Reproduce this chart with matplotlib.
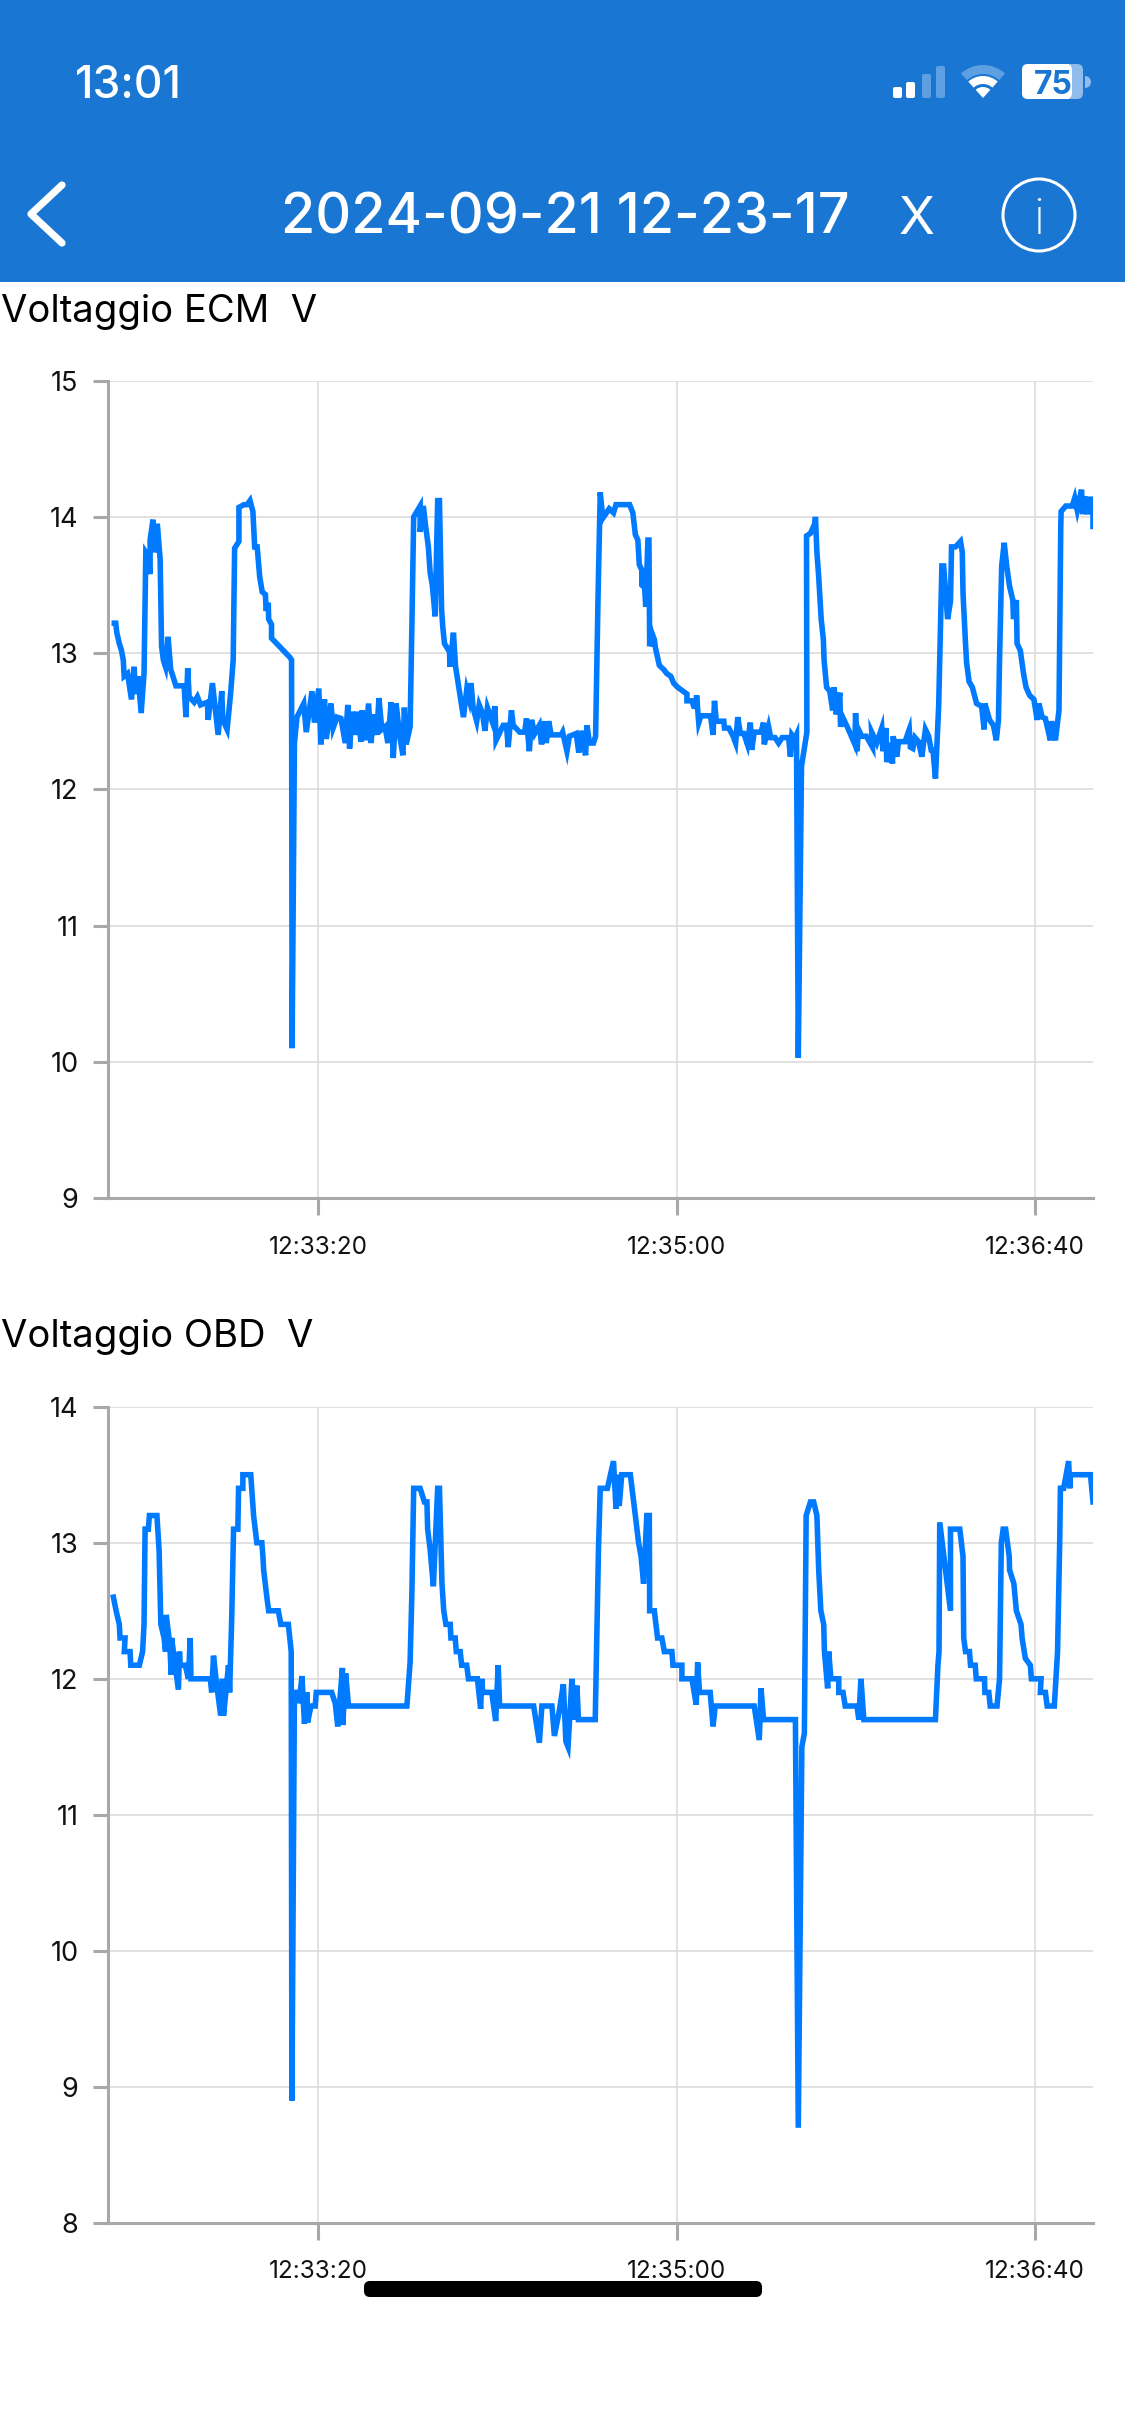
import matplotlib
matplotlib.use("Agg")
import matplotlib.pyplot as plt
import matplotlib.patches as patches

plt.rcParams['font.family'] = ['Inter', 'DejaVu Sans']

W, H = 1125, 2436
HEADER_BLUE = '#1976D2'
LINE_BLUE = '#007AFF'
AXIS_GREY = '#A8A8A8'
GRID_GREY = '#D8D8D8'

# seconds after 12:32:20
tick_secs = [60, 160, 260]
tick_labels = ['12:33:20', '12:35:00', '12:36:40']
xlim_secs = (1.1, 276.3)

ecm_t = [3.0, 3.4, 3.7, 4.4, 5.0, 5.5, 5.75, 6.7, 7.8, 8.5, 9.0, 9.65, 10.5, 11.3, 11.8, 12.3,
         13.0, 13.0, 13.8, 14.3, 15.0, 15.8, 16.2, 16.7, 17.3, 18.0, 18.75, 19.5, 20.2, 22.5, 23.0,
         23.5, 23.9, 25.3, 26.2, 27.1, 29.0, 29.2, 30.4, 32.0, 33.0, 33.3, 34.5, 35.5, 36.2, 36.6,
         37.8, 37.8, 39.2, 40.1, 40.9, 41.7, 42.2, 42.9, 43.6, 44.3, 45.2, 45.4, 46.0, 46.1, 46.9,
         46.9, 52.0, 52.5, 52.65, 53.3, 54.0, 55.9, 56.6, 58.2, 58.9, 60.1, 60.7, 61.7, 62.2, 63.5,
         64.1, 65.2, 66.3, 67.5, 68.2, 68.7, 69.4, 70.1, 70.8, 71.9, 72.2, 73.1, 74.0, 74.7, 75.4,
         76.3, 76.9, 77.7, 78.6, 79.4, 80.3, 80.9, 81.7, 82.7, 83.6, 84.0, 84.5, 85.6, 86.1, 86.6,
         88.4, 88.4, 89.3, 89.8, 90.7, 91.2, 91.8, 92.6, 93.3, 93.8, 94.4, 94.7, 95.2, 96.6, 96.75,
         97.7, 98.3, 100.5, 101.4, 102.1, 102.6, 103.2, 104.2, 104.9, 105.8, 106.5, 107.2, 108.5,
         109.3, 109.6, 111.6, 112.5, 113.0, 113.9, 114.4, 116.2, 117.6, 118.1, 118.9, 119.5, 120.4,
         121.7, 122.3, 123.2, 123.6, 124.3, 125.0, 127.8, 128.2, 129.4, 130.1, 132.0, 132.7, 133.6,
         134.6, 135.0, 135.7, 136.8, 137.4, 138.1, 138.7, 139.4,
         141.2, 142.4, 143.1, 146.9, 147.8, 148.5, 149.2, 149.6, 150.3, 150.3, 151.1, 151.4, 152.0,
         152.3, 152.5, 153.1, 153.8, 154.1, 155.2, 156.4, 157.3, 158.4, 159.2, 160.3, 162.9, 162.9,
         164.3, 164.8, 165.5, 165.6, 166.2, 166.8, 169.5, 170.2, 170.6, 171.1, 173.2, 173.4, 174.6,
         175.8, 176.5, 177.1, 177.8, 178.8, 179.8, 180.6, 181.0, 181.7, 183.6, 184.3, 184.5, 185.7,
         186.3, 187.5, 188.5, 189.5, 191.3, 191.8, 192.2, 193.0, 193.5, 194.0, 194.9, 196.4,
         196.3, 197.4, 198.6, 198.8, 199.2, 199.7, 200.4, 201.0, 201.2, 201.9, 202.8, 203.6, 204.0,
         204.6, 205.6, 205.8, 206.4, 208.0, 209.8, 210.0, 210.4, 210.8, 211.7, 213.0, 214.7, 214.5,
         215.9, 217.3, 217.6, 218.5, 218.7, 219.8, 220.3, 220.5, 221.5, 222.0, 223.8, 225.0, 225.3,
         226.0, 226.6, 227.6, 228.5, 229.5, 230.4, 231.1, 231.6, 232.3, 233.2, 233.7, 234.1, 234.6,
         235.7, 236.5, 236.8, 237.9, 239.3, 239.8, 240.0, 240.7, 241.0, 241.7, 242.6, 243.3, 243.8,
         245.2, 245.9, 246.1, 247.4, 248.5, 249.3, 249.9, 250.2, 250.8, 251.5, 252.2, 253.0, 253.9,
         254.1, 254.9, 255.1, 256.0, 256.9, 257.6, 258.6, 259.8, 260.7, 261.2, 262.1, 263.0, 264.4,
         264.7, 265.8, 266.8, 267.3, 267.4, 268.7, 270.5, 271.2, 271.9, 273.1, 273.4, 274.0, 274.8,
         275.5, 276.3, 276.3]
ecm_v = [13.22, 13.22, 13.15, 13.07, 13.02, 12.95, 12.83, 12.85, 12.66, 12.90, 12.70, 12.83, 12.56, 12.85, 13.74, 13.72,
         13.58, 13.83, 13.98, 13.74, 13.95, 13.69, 13.05, 12.95, 12.90, 13.12, 12.88, 12.82, 12.76, 12.76, 12.53,
         12.89, 12.68, 12.64, 12.68, 12.62, 12.64, 12.51, 12.78, 12.40, 12.72, 12.51, 12.44, 12.71, 12.95, 13.77,
         13.82, 14.07, 14.09, 14.09, 14.12, 14.04, 13.78, 13.78, 13.56, 13.45, 13.43, 13.31, 13.37, 13.25, 13.21,
         13.11, 12.97, 12.95, 10.10, 12.34, 12.53, 12.63, 12.42, 12.72, 12.49, 12.74, 12.33, 12.66, 12.37, 12.63,
         12.45, 12.53, 12.52, 12.34, 12.62, 12.30, 12.57, 12.40, 12.57, 12.35, 12.58, 12.36, 12.63, 12.34, 12.55,
         12.40, 12.67, 12.44, 12.46, 12.34, 12.64, 12.23, 12.63, 12.39, 12.25, 12.60, 12.33, 12.46, 13.20, 14.00,
         14.08, 13.89, 14.08, 13.96, 13.78, 13.59, 13.50, 13.27, 14.12, 14.12, 13.32, 13.20, 13.07, 13.01, 12.90,
         13.15, 12.90, 12.53, 12.73, 12.66, 12.78, 12.60, 12.50, 12.62, 12.56, 12.43, 12.60, 12.50,
         12.61, 12.36, 12.47, 12.47, 12.31, 12.58, 12.47, 12.42, 12.42, 12.52, 12.28, 12.51, 12.41,
         12.47, 12.33, 12.50, 12.34, 12.50, 12.40, 12.40, 12.42, 12.28, 12.39, 12.41, 12.27, 12.43,
         12.25, 12.47, 12.34, 12.34, 12.39, 13.44, 14.18, 13.99,
         14.06, 14.03, 14.09, 14.09, 14.03, 13.87, 13.83, 13.65, 13.61, 13.50, 13.48, 13.34, 13.83,
         13.83, 13.05, 13.15, 13.10, 13.04, 12.91, 12.88, 12.85, 12.83, 12.78, 12.75, 12.70, 12.65,
         12.65, 12.61, 12.61, 12.69, 12.49, 12.54, 12.54, 12.40, 12.65, 12.50, 12.50, 12.45, 12.45,
         12.39, 12.34, 12.53, 12.41, 12.41, 12.33, 12.49, 12.29, 12.42, 12.42, 12.49, 12.33, 12.46,
         12.38, 12.38, 12.34, 12.38, 12.38, 12.24, 12.40, 12.37, 12.40, 10.03, 12.17, 12.42,
         13.86, 13.88, 13.95, 14.00, 13.74, 13.56, 13.25, 13.10, 12.95, 12.75, 12.72, 12.58, 12.75,
         12.55, 12.71, 12.46, 12.53, 12.44, 12.33, 12.56, 12.28, 12.44, 12.39, 12.39, 12.31, 12.42,
         12.34, 12.45, 12.28, 12.45, 12.20, 12.34, 12.19, 12.39, 12.24, 12.35, 12.35, 12.44, 12.31,
         12.30, 12.38, 12.35, 12.24, 12.44, 12.39, 12.29, 12.29, 12.08, 12.61, 13.20, 13.64, 13.64,
         13.25, 13.38, 13.78, 13.78, 13.82, 13.74, 13.44, 13.07, 12.93, 12.79, 12.75, 12.68, 12.63,
         12.61, 12.44, 12.63, 12.51, 12.47, 12.36, 12.51, 12.95, 13.64, 13.81, 13.64, 13.49, 13.39,
         13.25, 13.39, 13.07, 13.02, 12.85, 12.75, 12.69, 12.66, 12.51, 12.63, 12.53, 12.52, 12.36,
         12.50, 12.36, 12.58, 13.93, 14.04, 14.08, 14.08, 14.14, 14.05, 14.20, 14.02, 14.15, 14.02,
         14.13, 14.13, 13.93]

obd_t = [2.75, 3.5, 4.4, 4.6, 6.0, 5.8, 7.4, 7.6, 10.0, 10.9, 11.3, 11.6, 12.5, 12.8, 14.9, 15.5,
         16.0, 16.9, 17.3, 17.5, 18.5, 18.9, 19.0, 19.5, 20.9, 21.2, 21.4, 22.8, 23.7, 24.2, 24.4, 29.8,
         30.2, 30.7, 31.4, 32.7, 33.2, 33.5, 34.9, 35.2, 35.8, 36.3, 37.5, 37.7, 38.9, 38.9, 41.1, 41.9,
         42.8, 44.2, 44.5, 44.7, 45.6, 46.1, 48.8, 49.5, 51.6, 52.4, 52.6, 53.3, 54.4, 54.6, 55.4,
         56.1, 56.8, 57.0, 57.9, 59.1, 59.4, 63.7, 64.7, 65.4, 66.7, 66.8, 67.6, 68.4, 68.4, 84.7,
         85.6, 86.1, 86.6, 88.4, 89.6, 90.3, 90.5, 91.2, 92.1, 93.3, 93.8, 94.5, 95.0, 95.6, 96.8,
         97.0, 98.2, 98.5, 99.6, 100.0, 101.4, 101.9, 104.4, 105.3, 105.6, 105.9, 108.4, 109.5,
         110.2, 110.6, 120.1, 121.7, 122.4, 125.2, 125.9, 127.3, 128.4, 129.1, 129.7, 130.8, 131.4,
         132.2, 132.6, 137.3, 138.2, 138.7, 140.7, 142.4, 143.1, 143.5, 144.0, 144.7, 147.1, 148.5,
         149.4, 150.1, 150.8, 151.7, 152.4, 152.5, 153.8, 154.7, 155.9, 156.6, 158.7, 159.0, 161.5,
         161.5, 164.3, 165.5, 165.9, 166.4, 169.4, 170.2, 170.8, 181.7, 183.1, 183.6, 184.3, 193.2,
         194.0, 195.0, 195.7, 196.2, 197.4, 198.3, 199.2, 199.7, 200.3, 201.1, 201.3, 202.2, 202.5,
         203.1, 205.3, 205.3, 206.5, 207.1, 210.4, 210.9, 211.5, 212.3, 232.3, 233.0, 233.3, 233.5,
         236.5, 236.5, 239.1, 240.0, 240.2, 240.7, 241.8, 242.1, 243.4, 243.7, 246.0, 246.1, 247.2,
         247.6, 249.5, 250.2, 250.7, 251.2, 251.9, 252.9, 253.0, 254.2, 254.9, 256.2, 256.5, 257.4,
         258.8, 259.1, 261.8, 261.6, 263.0, 263.5, 265.5, 266.4, 267.0, 267.2, 268.1, 269.5, 269.8,
         270.0, 275.6, 276.3]
obd_v = [12.6, 12.5, 12.4, 12.3, 12.3, 12.2, 12.2, 12.1, 12.1, 12.2, 12.4, 13.1, 13.1, 13.2, 13.2, 12.95,
         12.4, 12.3, 12.2, 12.47, 12.25, 12.03, 12.3, 12.2, 11.92, 12.2, 12.1, 12.1, 12.0, 12.3, 12.0, 12.0,
         11.9, 12.17, 12.0, 11.73, 12.0, 11.73, 12.1, 11.9, 12.46, 13.1, 13.1, 13.4, 13.4, 13.5, 13.5, 13.2,
         13.0, 13.0, 12.9, 12.8, 12.6, 12.5, 12.5, 12.4, 12.4, 12.2, 8.9, 11.9, 11.9, 11.82, 12.02,
         11.67, 11.9, 11.68, 11.8, 11.8, 11.9, 11.9, 11.82, 11.65, 12.08, 11.66, 12.04, 11.8, 11.8, 11.8,
         12.12, 12.63, 13.4, 13.4, 13.3, 13.3, 13.1, 12.95, 12.68, 13.4, 13.4, 12.7, 12.5, 12.4, 12.4,
         12.3, 12.3, 12.2, 12.2, 12.1, 12.1, 12.0, 12.0, 11.78, 12.0, 11.9, 11.9, 11.69,
         12.1, 11.8, 11.8, 11.53, 11.8, 11.8, 11.58, 11.77, 11.96, 11.54, 11.5, 12.0, 11.7,
         11.95, 11.7, 11.7, 12.95, 13.4, 13.4, 13.6, 13.25, 13.5, 13.27, 13.5, 13.5, 13.2,
         13.0, 12.9, 12.7, 13.2, 13.2, 12.5, 12.5, 12.3, 12.3, 12.2, 12.2, 12.1, 12.1,
         12.0, 12.0, 11.81, 12.12, 11.9, 11.9, 11.65, 11.8, 11.8, 11.55, 11.93, 11.7, 11.7,
         8.7, 11.5, 11.6, 13.2, 13.3, 13.3, 13.2, 12.8, 12.5, 12.4, 12.2, 11.93, 12.2,
         12.0, 12.0, 11.9, 11.9, 11.8, 11.8, 11.7, 12.0, 11.7, 11.7, 12.1, 12.2, 13.15,
         12.5, 13.1, 13.1, 12.9, 12.3, 12.2, 12.2, 12.1, 12.1, 12.0, 12.0, 11.9, 11.9,
         11.8, 11.8, 12.0, 13.0, 13.1, 13.1, 12.9, 12.8, 12.7, 12.5, 12.4, 12.3, 12.15,
         12.1, 12.0, 12.0, 11.9, 11.9, 11.8, 11.8, 12.2, 13.0, 13.4, 13.4, 13.6, 13.4,
         13.5, 13.5, 13.3]


def add_chart(fig, top, bottom, t, v, ylim, title, title_base):
    left, right = 107.5, 1093
    ax = fig.add_axes([left / W, 1 - bottom / H, (right - left) / W, (bottom - top) / H])
    ax.plot(t, v, color=LINE_BLUE, lw=4.0, solid_joinstyle='miter', zorder=3)
    ax.set_xlim(*xlim_secs)
    ax.set_ylim(*ylim)
    ax.set_yticks(range(ylim[0], ylim[1] + 1))
    ax.set_xticks(tick_secs)
    ax.set_xticklabels(tick_labels)
    ax.grid(True, color=GRID_GREY, lw=1.1, zorder=0)
    for s in ['top', 'right']:
        ax.spines[s].set_visible(False)
    for s in ['left', 'bottom']:
        ax.spines[s].set_color(AXIS_GREY)
        ax.spines[s].set_linewidth(2.2)
    ax.tick_params(axis='y', length=11, width=2.2, color=AXIS_GREY, pad=10, labelsize=19.5, labelcolor='#111111')
    ax.tick_params(axis='x', length=12, width=2.2, color=AXIS_GREY, pad=15, labelsize=17.5, labelcolor='#111111')
    fig.text(1 / W, 1 - title_base / H, title, fontsize=27.5, color='black', ha='left', va='baseline')
    return ax


def draw_phone_chrome(fig):
    # full figure overlay, in image pixels
    ov = fig.add_axes([0, 0, 1, 1])
    ov.set_xlim(0, W)
    ov.set_ylim(H, 0)
    ov.axis('off')
    ov.add_patch(patches.Rectangle((0, 0), W, 282, fc=HEADER_BLUE, ec='none'))

    ov.text(75, 98, '13:01', color='white', fontsize=32, fontweight='medium', ha='left', va='baseline')

    # signal bars
    for x0, y0, col in [(893, 87, 'white'), (906, 82, 'white'), (922, 74, '#5E9FE2'), (936, 66, '#5E9FE2')]:
        ov.add_patch(patches.FancyBboxPatch((x0 + 2, y0 + 2), 5, 98 - y0 - 4, boxstyle='round,pad=2',
                                            fc=col, ec='none'))
    # wifi
    ov.add_patch(patches.Wedge((983, 98), 33, 228, 312, width=9, fc='#5E9FE2', ec='none'))
    ov.add_patch(patches.Wedge((983, 98), 22, 228, 312, width=8, fc='white', ec='none'))
    ov.add_patch(patches.Wedge((983, 98), 11, 228, 312, fc='white', ec='none'))

    # battery
    ov.add_patch(patches.FancyBboxPatch((1028, 70), 49, 23, boxstyle='round,pad=6', fc='#8FBCEB', ec='none'))
    ov.add_patch(patches.FancyBboxPatch((1028, 70), 38, 23, boxstyle='round,pad=6', fc='white', ec='none'))
    ov.add_patch(patches.Rectangle((1060, 64), 9, 35, fc='white', ec='none'))
    ov.add_patch(patches.Wedge((1085, 82), 6, -90, 90, fc='#8FBCEB', ec='none'))
    ov.text(1053, 94, '75', color=HEADER_BLUE, fontsize=23, fontweight='bold', ha='center', va='baseline')

    # back chevron
    ov.plot([62, 31, 62], [185, 214, 243], color='white', lw=5.2, solid_capstyle='round', solid_joinstyle='round')

    ov.text(565, 234, '2024-09-21 12-23-17', color='white', fontsize=40, fontweight='medium',
            ha='center', va='baseline')
    ov.text(917, 234, 'X', color='white', fontsize=38, ha='center', va='baseline')

    ov.add_patch(patches.Circle((1039, 215), 36, fc='none', ec='white', lw=2.2))
    ov.text(1039, 234, 'i', color='white', fontsize=35, fontweight='light', ha='center', va='baseline')

    # home indicator
    ov.add_patch(patches.FancyBboxPatch((370, 2287), 386, 4, boxstyle='round,pad=6', fc='black', ec='none'))


fig = plt.figure(figsize=(W / 100, H / 100), dpi=100, facecolor='white')

add_chart(fig, 380.7, 1198, ecm_t, ecm_v, (9, 15), 'Voltaggio ECM  V', 322)
add_chart(fig, 1406.7, 2223, obd_t, obd_v, (8, 14), 'Voltaggio OBD  V', 1347)
draw_phone_chrome(fig)

fig.savefig('out.png', dpi=100)
plt.close(fig)
